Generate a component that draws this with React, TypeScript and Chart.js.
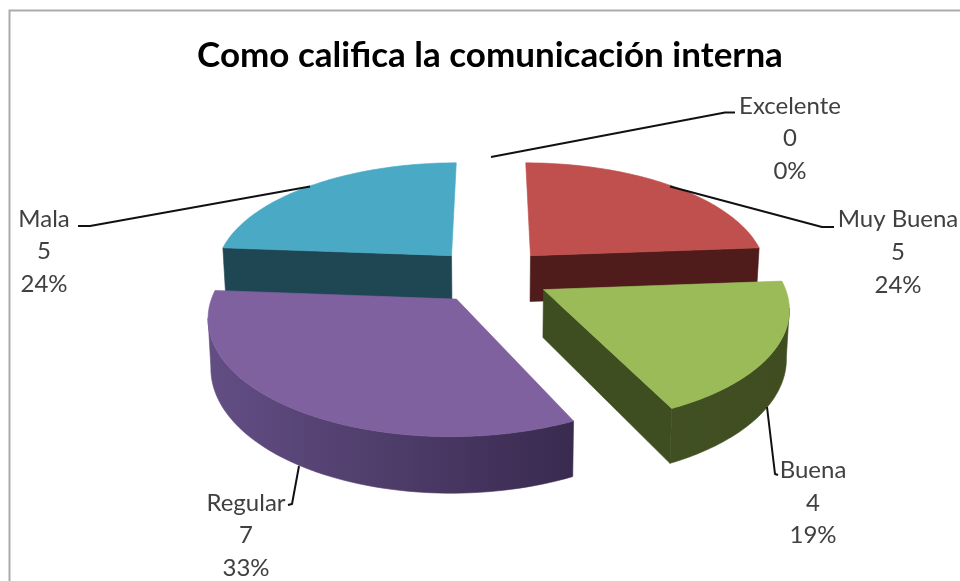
import React, { useEffect, useRef } from "react";
import { Chart, registerables } from "chart.js";

Chart.register(...registerables);

const categories = ["Excelente", "Muy Buena", "Buena", "Regular", "Mala"];
const responses = [0, 5, 4, 7, 5];
const chartTitle = "Como califica la comunicación interna";
const topColors = ["#4F81BD", "#C0504D", "#9BBB59", "#7F61A0", "#4AA9C4"];

// Shading of the side walls, per slice: [left colour, right colour]
const wallColors = [
  ["#2B4A70", "#2B4A70"],
  ["#4F1B1B", "#4F1B1B"],
  ["#415023", "#3F4D21"],
  ["#634E84", "#392A4F"],
  ["#1E4653", "#1E4653"],
];
const cutColors = ["#2B4A70", "#4F1B1B", "#3F4E21", "#392A4F", "#1E4653"];

// Projection of the tilted pie onto the canvas
const view = { cx: 491, cy: 275.5, rx: 238, ry: 111, perspective: 0.14, explode: 0.25, depth: 47, baseScale: 0.99 };

// Callout text and leader lines, in the order of the categories
const callouts = [
  { x: 790, ys: [106, 138, 171], leader: [[491, 157], [725, 112.5], [735, 112.5]] },
  { x: 898, ys: [219, 252, 285], leader: [[670, 186.5], [822, 227], [834, 227]] },
  { x: 813, ys: [470, 503, 535], leader: [[767, 407], [775, 474], [778, 475]] },
  { x: 246, ys: [503, 535, 568], leader: [[299, 466], [292, 504], [288, 505]] },
  { x: 44, ys: [219, 251, 284], leader: [[310, 186.5], [90, 226], [78, 226]] },
];

const TEXT_FONT = "24px Lato";

type Pt = [number, number];

function project(px: number, pz: number, lowered: boolean): Pt {
  const s = 1 / (1 - view.perspective * pz);
  const spread = lowered ? view.baseScale : 1;
  return [
    view.cx + view.rx * px * s * spread,
    view.cy + view.ry * pz * s + (lowered ? view.depth * s : 0),
  ];
}

function tracePolygon(ctx: CanvasRenderingContext2D, pts: Pt[]) {
  ctx.beginPath();
  pts.forEach((p, i) => (i ? ctx.lineTo(p[0], p[1]) : ctx.moveTo(p[0], p[1])));
  ctx.closePath();
}

function fillShape(ctx: CanvasRenderingContext2D, pts: Pt[], fill: string | CanvasGradient) {
  tracePolygon(ctx, pts);
  ctx.fillStyle = fill;
  ctx.strokeStyle = fill;
  ctx.lineWidth = 0.6;
  ctx.fill();
  ctx.stroke();
}

// Draws one pie element as an extruded wedge, using the angles computed by the controller.
function drawWedge(ctx: CanvasRenderingContext2D, start: number, end: number, index: number) {
  const mid = (start + end) / 2;
  const ox = Math.cos(mid) * view.explode;
  const oz = Math.sin(mid) * view.explode;
  const steps = 72;
  const rimTop: Pt[] = [];
  const rimLow: Pt[] = [];
  for (let i = 0; i <= steps; i++) {
    const a = start + ((end - start) * i) / steps;
    const px = ox + Math.cos(a);
    const pz = oz + Math.sin(a);
    rimTop.push(project(px, pz, false));
    rimLow.push(project(px, pz, true));
  }
  const apexTop = project(ox, oz, false);
  const apexLow = project(ox, oz, true);
  const cut = cutColors[index];

  // Radial faces are painted only when they turn towards the viewer.
  if (-Math.cos(start) > 0.05) fillShape(ctx, [apexTop, rimTop[0], rimLow[0], apexLow], cut);
  if (Math.cos(end) > 0.05) fillShape(ctx, [apexTop, rimTop[steps], rimLow[steps], apexLow], cut);

  const xs = rimTop.map((p) => p[0]);
  const wall = ctx.createLinearGradient(Math.min(...xs), 0, Math.max(...xs), 0);
  wall.addColorStop(0, wallColors[index][0]);
  wall.addColorStop(1, wallColors[index][1]);
  // Only the part of the rim past its widest point shows as a wall.
  const nearTop: Pt[] = [];
  const nearLow: Pt[] = [];
  for (let i = 0; i <= steps; i++) {
    const a = start + ((end - start) * i) / steps;
    if (Math.sin(a) > 0.15) {
      nearTop.push(rimTop[i]);
      nearLow.push(rimLow[i]);
    }
  }
  if (nearTop.length > 1) fillShape(ctx, [...nearTop, ...nearLow.slice().reverse()], wall);

  fillShape(ctx, [apexTop, ...rimTop], topColors[index]);
}

const pie3d = {
  id: "pie3d",
  beforeDraw(chart: Chart) {
    const ctx = chart.ctx;
    ctx.save();
    ctx.fillStyle = "#FFFFFF";
    ctx.fillRect(0, 0, chart.width, chart.height);
    ctx.strokeStyle = "#ABABAB";
    ctx.lineWidth = 2;
    ctx.beginPath();
    ctx.moveTo(9.5, chart.height);
    ctx.lineTo(9.5, 10.5);
    ctx.lineTo(chart.width, 10.5);
    ctx.stroke();
    ctx.restore();
  },
  beforeDatasetsDraw(chart: Chart) {
    const ctx = chart.ctx;
    const arcs = chart.getDatasetMeta(0).data as any[];
    // Painter's order: the wedges furthest from the viewer go first.
    const order = arcs
      .map((arc, index) => ({ arc, index, depth: Math.sin((arc.startAngle + arc.endAngle) / 2) }))
      .filter((item) => item.arc.endAngle > item.arc.startAngle)
      .sort((a, b) => a.depth - b.depth);
    ctx.save();
    order.forEach(({ arc, index }) => drawWedge(ctx, arc.startAngle, arc.endAngle, index));
    ctx.restore();
    return false;
  },
  afterDraw(chart: Chart) {
    const ctx = chart.ctx;
    const total = responses.reduce((a, b) => a + b, 0);
    ctx.save();
    ctx.strokeStyle = "#111111";
    ctx.lineWidth = 2;
    ctx.lineJoin = "round";
    callouts.forEach((c, i) => {
      ctx.beginPath();
      c.leader.forEach((p, j) => (j ? ctx.lineTo(p[0], p[1]) : ctx.moveTo(p[0], p[1])));
      ctx.stroke();
      const lines = [categories[i], String(responses[i]), `${Math.round((responses[i] / total) * 100)}%`];
      ctx.font = TEXT_FONT;
      ctx.fillStyle = "#404040";
      ctx.textAlign = "center";
      ctx.textBaseline = "middle";
      lines.forEach((text, j) => ctx.fillText(text, c.x, c.ys[j]));
    });
    ctx.restore();
  },
};

export default function App() {
  const ref = useRef<HTMLCanvasElement | null>(null);
  useEffect(() => {
    if (!ref.current) return;
    const chart = new Chart(ref.current, {
      type: "pie",
      data: {
        labels: categories,
        datasets: [{ data: responses, backgroundColor: topColors, borderWidth: 0 }],
      },
      options: {
        responsive: false,
        animation: false,
        layout: { padding: { left: 20, top: 35 } },
        plugins: {
          legend: { display: false },
          tooltip: { enabled: false },
          title: {
            display: true,
            text: chartTitle,
            color: "#000000",
            font: { family: "Lato", size: 35, weight: "bold" },
            padding: 0,
          },
        },
      },
      plugins: [pie3d],
    } as any);
    return () => chart.destroy();
  }, []);
  return (
    <div style={{ position: "fixed", left: 0, top: 0, width: 960, height: 581, background: "#fff" }}>
      <canvas ref={ref} width={960} height={581} style={{ display: "block" }} />
    </div>
  );
}
